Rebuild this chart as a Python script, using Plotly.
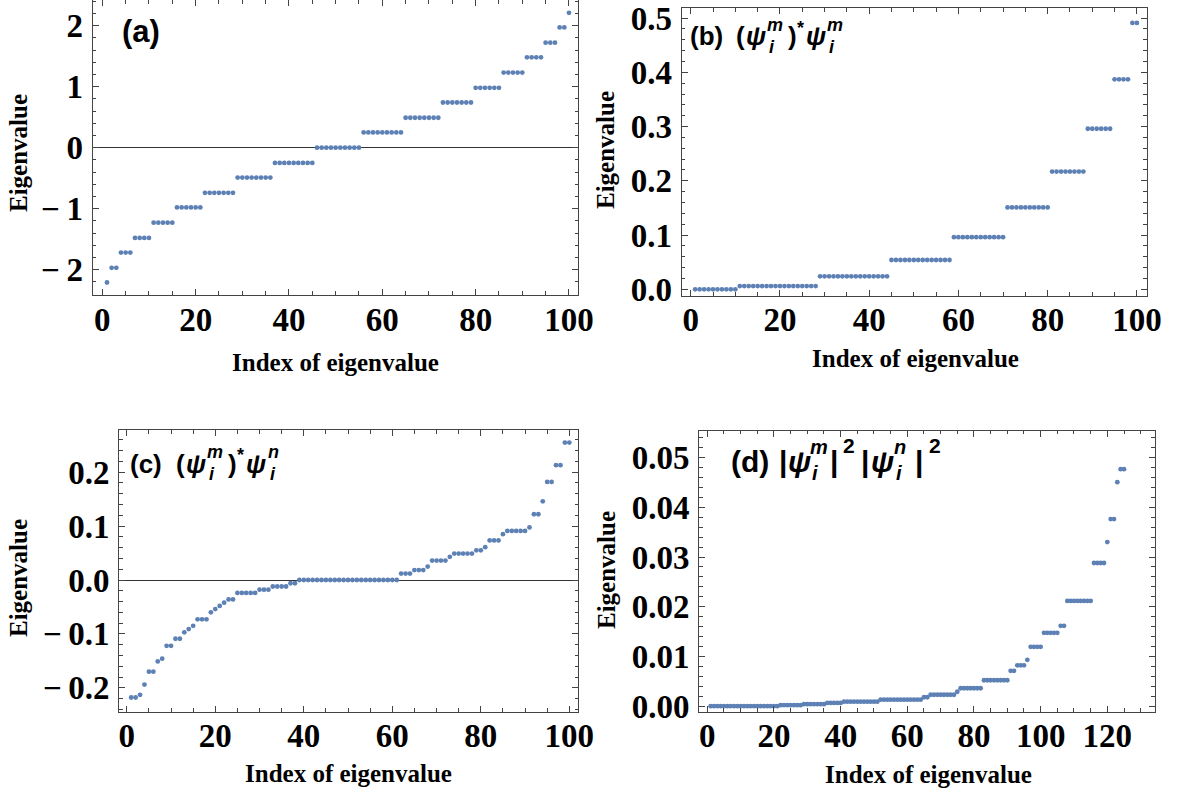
import plotly.graph_objects as go

W, H = 1177, 794

# ---------------- data ----------------
a_y = [-2.21,
       -1.97, -1.97,
       -1.72, -1.72, -1.72,
       -1.48, -1.48, -1.48, -1.48,
       -1.23, -1.23, -1.23, -1.23, -1.23,
       -0.98, -0.98, -0.98, -0.98, -0.98, -0.98,
       -0.74, -0.74, -0.74, -0.74, -0.74, -0.74, -0.74,
       -0.49, -0.49, -0.49, -0.49, -0.49, -0.49, -0.49, -0.49,
       -0.25, -0.25, -0.25, -0.25, -0.25, -0.25, -0.25, -0.25, -0.25,
       0.0, 0.0, 0.0, 0.0, 0.0, 0.0, 0.0, 0.0, 0.0, 0.0,
       0.25, 0.25, 0.25, 0.25, 0.25, 0.25, 0.25, 0.25, 0.25,
       0.49, 0.49, 0.49, 0.49, 0.49, 0.49, 0.49, 0.49,
       0.74, 0.74, 0.74, 0.74, 0.74, 0.74, 0.74,
       0.98, 0.98, 0.98, 0.98, 0.98, 0.98,
       1.23, 1.23, 1.23, 1.23, 1.23,
       1.48, 1.48, 1.48, 1.48,
       1.72, 1.72, 1.72,
       1.97, 1.97,
       2.21]

b_y = [0.0, 0.0, 0.0, 0.0, 0.0, 0.0, 0.0, 0.0, 0.0, 0.0,
       0.006, 0.006, 0.006, 0.006, 0.006, 0.006, 0.006, 0.006, 0.006,
       0.006, 0.006, 0.006, 0.006, 0.006, 0.006, 0.006, 0.006, 0.006,
       0.024, 0.024, 0.024, 0.024, 0.024, 0.024, 0.024, 0.024,
       0.024, 0.024, 0.024, 0.024, 0.024, 0.024, 0.024, 0.024,
       0.054, 0.054, 0.054, 0.054, 0.054, 0.054, 0.054,
       0.054, 0.054, 0.054, 0.054, 0.054, 0.054, 0.054,
       0.096, 0.096, 0.096, 0.096, 0.096, 0.096,
       0.096, 0.096, 0.096, 0.096, 0.096, 0.096,
       0.151, 0.151, 0.151, 0.151, 0.151, 0.151, 0.151, 0.151, 0.151, 0.151,
       0.217, 0.217, 0.217, 0.217, 0.217, 0.217, 0.217, 0.217,
       0.296, 0.296, 0.296, 0.296, 0.296, 0.296,
       0.387, 0.387, 0.387, 0.387,
       0.491, 0.491]

c_y = [-0.218, -0.218, -0.213, -0.194, -0.170, -0.170, -0.151, -0.146,
       -0.122, -0.122, -0.109, -0.109, -0.097, -0.091, -0.085,
       -0.073, -0.073, -0.073, -0.060, -0.054, -0.048, -0.042,
       -0.036, -0.036, -0.024, -0.024, -0.024, -0.024, -0.024,
       -0.018, -0.018, -0.018, -0.012, -0.012, -0.012, -0.012,
       -0.006, -0.006,
       0.0, 0.0, 0.0, 0.0, 0.0, 0.0, 0.0, 0.0, 0.0, 0.0, 0.0, 0.0,
       0.0, 0.0, 0.0, 0.0, 0.0, 0.0, 0.0, 0.0, 0.0, 0.0, 0.0,
       0.012, 0.012, 0.012, 0.0185, 0.0185, 0.0185, 0.025,
       0.036, 0.036, 0.036, 0.036, 0.043,
       0.049, 0.049, 0.049, 0.049, 0.049, 0.055, 0.055, 0.061,
       0.0735, 0.0735, 0.0735, 0.085,
       0.091, 0.091, 0.091, 0.091, 0.091, 0.0975,
       0.122, 0.122, 0.146, 0.182, 0.182, 0.213, 0.213, 0.255, 0.255]

d_y = [0.0001, 0.0001, 0.0001, 0.0001, 0.0001, 0.0001, 0.0001,
       0.0001, 0.0001, 0.0001, 0.0001, 0.0001, 0.0001, 0.0001,
       0.0001, 0.0001, 0.0001, 0.0001, 0.0001, 0.0001, 0.0001,
       0.0003, 0.0003, 0.0003, 0.0003, 0.0003, 0.0003, 0.0003,
       0.0005, 0.0005, 0.0005, 0.0005, 0.0005, 0.0005, 0.0005,
       0.00075, 0.00075, 0.00075, 0.00075, 0.00075,
       0.001, 0.001, 0.001, 0.001, 0.001, 0.001, 0.001, 0.001, 0.001, 0.001, 0.001,
       0.0014, 0.0014, 0.0014, 0.0014, 0.0014, 0.0014, 0.0014,
       0.0014, 0.0014, 0.0014, 0.0014, 0.0014, 0.0014,
       0.0019, 0.0019,
       0.0024, 0.0024, 0.0024, 0.0024, 0.0024, 0.0024, 0.0024, 0.0024,
       0.0030,
       0.0037, 0.0037, 0.0037, 0.0037, 0.0037, 0.0037, 0.0037,
       0.0053, 0.0053, 0.0053, 0.0053, 0.0053, 0.0053, 0.0053, 0.0053,
       0.0072, 0.0072,
       0.0083, 0.0083, 0.0083,
       0.0094,
       0.0120, 0.0120, 0.0120, 0.0120,
       0.0148, 0.0148, 0.0148, 0.0148, 0.0148,
       0.0162, 0.0162,
       0.0212, 0.0212, 0.0212, 0.0212, 0.0212, 0.0212, 0.0212, 0.0212,
       0.0288, 0.0288, 0.0288, 0.0288,
       0.033,
       0.0376, 0.0376,
       0.045,
       0.0476, 0.0476]

a_x = list(range(1, len(a_y) + 1))
b_x = list(range(1, len(b_y) + 1))
c_x = list(range(1, len(c_y) + 1))
d_x = list(range(1, len(d_y) + 1))

x_title = "Index of eigenvalue"
y_title = "Eigenvalue"

a_yticks = [-2, -1, 0, 1, 2]
b_yticks = [0.0, 0.1, 0.2, 0.3, 0.4, 0.5]
c_yticks = [-0.2, -0.1, 0.0, 0.1, 0.2]
d_yticks = [0.00, 0.01, 0.02, 0.03, 0.04, 0.05]
abc_xticks = [0, 20, 40, 60, 80, 100]
d_xticks = [0, 20, 40, 60, 80, 100, 120]

# ---------------- styling ----------------
DOT = "#5E81B5"
FRAME = "#444444"
TICKFONT = dict(family="Liberation Serif", size=33, color="black", weight="bold")
LABELFONT = "Liberation Sans"
MINUS = "\u2212\u2009"


def fmt(v, nd):
    s = f"{abs(v):.{nd}f}"
    return (MINUS + s) if v < 0 else s


def px_dom(lo, hi, total, flip=False):
    if flip:
        return [1 - hi / total, 1 - lo / total]
    return [lo / total, hi / total]


fig = go.Figure()

panels = [
    ("", a_x, a_y, (92.7, 578.3), (0, 295), [-2.06, 102], [-2.415, 2.42],
     a_yticks, 0, 0.2, abc_xticks, True),
    ("2", b_x, b_y, (681.7, 1146.7), (8.3, 295.7), [-2.02, 102.2], [-0.0118, 0.518],
     b_yticks, 1, 0.02, abc_xticks, False),
    ("3", c_x, c_y, (119.3, 578.3), (430, 711.7), [-1.69, 102.03], [-0.2443, 0.2783],
     c_yticks, 1, 0.02, abc_xticks, True),
    ("4", d_x, d_y, (699.3, 1155), (430.5, 711.7), [-2.4, 134.3], [-0.0010, 0.05535],
     d_yticks, 2, 0.002, d_xticks, False),
]

for name, xs, ys, xd, yd, xr, yr, yt, ynd, ymin, xt, zl in panels:
    fig.add_trace(go.Scatter(
        x=xs, y=ys, mode="markers",
        marker=dict(color=DOT, size=4.8, line=dict(width=0)),
        xaxis="x" + name, yaxis="y" + name, showlegend=False,
        hoverinfo="skip"))
    common = dict(showline=True, linecolor=FRAME, linewidth=1.2, mirror="ticks",
                  ticks="inside", tickcolor=FRAME, tickwidth=1.1, ticklen=6,
                  showgrid=False, automargin=False, tickfont=TICKFONT)
    fig.layout["xaxis" + name] = dict(
        common, domain=px_dom(xd[0], xd[1], W), range=xr,
        tickmode="array", tickvals=xt, ticktext=[str(v) for v in xt],
        zeroline=False, anchor="y" + name, ticklabelstandoff=-5,
        minor=dict(ticks="inside", ticklen=3.5, dtick=5, tick0=0,
                   tickcolor=FRAME, tickwidth=1, showgrid=False))
    fig.layout["yaxis" + name] = dict(
        common, domain=px_dom(yd[0], yd[1], H, flip=True), range=yr,
        tickmode="array", tickvals=yt, ticktext=[fmt(v, ynd) for v in yt],
        anchor="x" + name,
        zeroline=zl, zerolinecolor="#333333", zerolinewidth=1.1,
        ticklabelstandoff=2,
        minor=dict(ticks="inside", ticklen=3.5, dtick=ymin, tick0=0,
                   tickcolor=FRAME, tickwidth=1, showgrid=False))

ann = []


def txt(text, xp, yp, size, font=LABELFONT, angle=0, anchor="left"):
    ann.append(dict(text=text, x=xp / W, y=1 - yp / H, xref="paper", yref="paper",
                    xanchor=anchor, yanchor="middle", showarrow=False, textangle=angle,
                    borderpad=0,
                    font=dict(family=font, size=size, color="black", weight="bold")))


# axis titles
for (cx, cy) in [(335, 362), (915, 358), (348, 773), (928, 774)]:
    txt(x_title, cx, cy, 25, font="Liberation Serif", anchor="center")
for (cx, cy) in [(18, 153), (605, 150), (18, 578), (606, 570)]:
    txt(y_title, cx, cy, 25, font="Liberation Serif", angle=-90, anchor="center")

# panel labels (pieces so that sub/superscripts stack)
PSI = "<i>ψ</i>"
txt("(a)", 121, 31, 31)

txt("(b)", 689, 36, 26)
txt("(", 735, 36, 26)
txt(PSI, 745, 36, 26)
txt("<i>m</i>", 766, 25, 18)
txt("<i>i</i>", 768, 47, 18)
txt(")", 787, 36, 26)
txt("*", 796, 28, 18)
txt(PSI, 805, 36, 26)
txt("<i>m</i>", 826, 25, 18)
txt("<i>i</i>", 828, 47, 18)

txt("(c)", 129, 464, 26)
txt("(", 175, 464, 26)
txt(PSI, 185, 464, 26)
txt("<i>m</i>", 206, 452, 18)
txt("<i>i</i>", 208, 474, 18)
txt(")", 227, 464, 26)
txt("*", 236, 455, 18)
txt(PSI, 245, 464, 26)
txt("<i>n</i>", 267, 452, 18)
txt("<i>i</i>", 269, 474, 18)

txt("(d)", 730, 461, 30)
txt("|", 778, 461, 30)
txt(PSI, 787, 461, 30)
txt("<i>m</i>", 809, 447, 20)
txt("<i>i</i>", 811, 473, 20)
txt("|", 829, 461, 30)
txt("2", 842, 445, 21)
txt("|", 860, 461, 30)
txt(PSI, 870, 461, 30)
txt("<i>n</i>", 893, 447, 20)
txt("<i>i</i>", 895, 473, 20)
txt("|", 914, 461, 30)
txt("2", 928, 445, 21)

fig.update_layout(
    width=W, height=H, margin=dict(l=0, r=0, t=0, b=0),
    paper_bgcolor="white", plot_bgcolor="white",
    annotations=ann, template="none", showlegend=False)

fig.write_html("out.html")
